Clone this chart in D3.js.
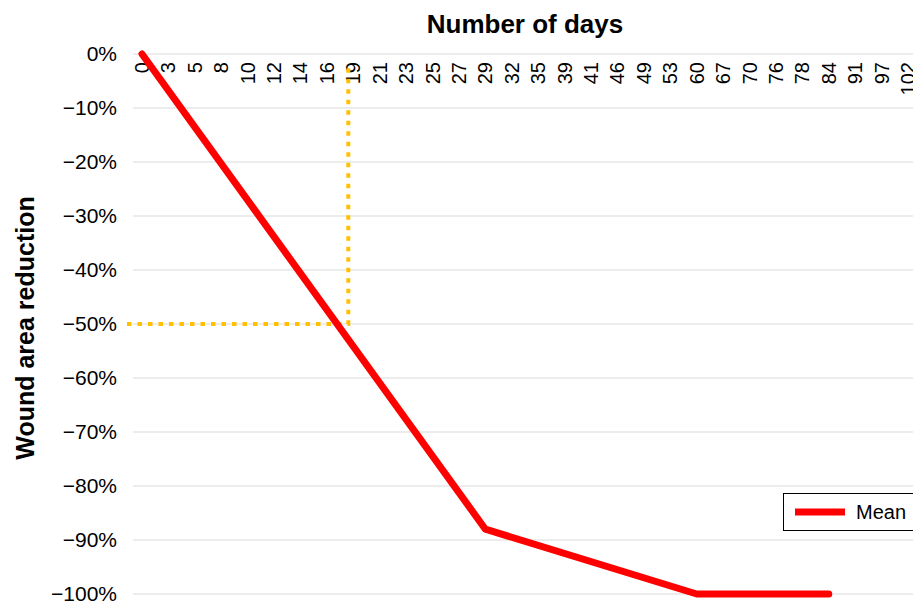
<!DOCTYPE html>
<html>
<head>
<meta charset="utf-8">
<script src="https://cdn.jsdelivr.net/npm/d3@7.9.0/dist/d3.min.js"></script>
<style>
  body { margin: 0; background: #fff; }
  svg { display: block; font-family: "Liberation Sans", Arial, sans-serif; }
</style>
</head>
<body>
<svg id="chart" width="913" height="601"></svg>
<script>
// categories on the x axis (days)
const days = ['0', '3', '5', '8', '10', '12', '14', '16', '19', '21', '23', '25', '27', '29', '32',
  '35', '39', '41', '46', '49', '53', '60', '67', '70', '76', '78', '84', '91', '97', '102'];

// mean wound area reduction (%)
const meanDays = ['0', '29', '60', '84'];
const meanValues = [0, -88, -100, -100];

// y ticks (%)
const yTicks = [0, -10, -20, -30, -40, -50, -60, -70, -80, -90, -100];

// 50% reduction marker
const halfDay = '19';
const halfValue = -50;

const svg = d3.select('#chart');

const x = d3.scalePoint().domain(days).range([142, 908]);
const y = d3.scaleLinear().domain([-100, 0]).range([594, 54]);

const fmt = (v) => (v < 0 ? '\u2212' + Math.abs(v) : v) + '%';

// gridlines
svg.append('g')
  .selectAll('line')
  .data(yTicks)
  .join('line')
  .attr('x1', 133)
  .attr('x2', 913)
  .attr('y1', (d) => y(d))
  .attr('y2', (d) => y(d))
  .attr('stroke', '#d9d9d9')
  .attr('stroke-width', 1);

// y tick labels
svg.append('g')
  .selectAll('text')
  .data(yTicks)
  .join('text')
  .attr('x', 117)
  .attr('y', (d) => y(d))
  .attr('dy', '0.35em')
  .attr('text-anchor', 'end')
  .attr('font-size', 21)
  .attr('fill', '#000')
  .text(fmt);

// x tick labels, rotated, on top
svg.append('g')
  .selectAll('text')
  .data(days)
  .join('text')
  .attr('transform', (d) => `translate(${x(d)},62) rotate(-90)`)
  .attr('dy', '0.35em')
  .attr('text-anchor', 'end')
  .attr('font-size', 20)
  .attr('fill', '#000')
  .text((d) => d);

// dotted 50% marker
const hx = x(halfDay) - 5;
const hy = y(halfValue);
svg.append('path')
  .attr('d', `M127,${hy}H${hx}V67`)
  .attr('fill', 'none')
  .attr('stroke', '#ffc000')
  .attr('stroke-width', 4)
  .attr('stroke-dasharray', '4.5,6');

// mean line
const line = d3.line()
  .x((d, i) => x(meanDays[i]))
  .y((d) => y(d));

svg.append('path')
  .datum(meanValues)
  .attr('d', line)
  .attr('fill', 'none')
  .attr('stroke', '#ff0000')
  .attr('stroke-width', 7)
  .attr('stroke-linejoin', 'round')
  .attr('stroke-linecap', 'round');

// titles
svg.append('text')
  .attr('x', 525)
  .attr('y', 33)
  .attr('text-anchor', 'middle')
  .attr('font-size', 26)
  .attr('font-weight', 'bold')
  .text('Number of days');

svg.append('text')
  .attr('transform', 'translate(34,328) rotate(-90)')
  .attr('text-anchor', 'middle')
  .attr('font-size', 25)
  .attr('font-weight', 'bold')
  .text('Wound area reduction');

// legend
const legend = svg.append('g').attr('transform', 'translate(783,493)');
legend.append('rect')
  .attr('x', 0.5)
  .attr('y', 0.5)
  .attr('width', 140)
  .attr('height', 37)
  .attr('fill', '#fff')
  .attr('stroke', '#000');
legend.append('line')
  .attr('x1', 12)
  .attr('x2', 62)
  .attr('y1', 19)
  .attr('y2', 19)
  .attr('stroke', '#ff0000')
  .attr('stroke-width', 7);
legend.append('text')
  .attr('x', 73)
  .attr('y', 19)
  .attr('dy', '0.35em')
  .attr('font-size', 20)
  .text('Mean');
</script>
</body>
</html>
